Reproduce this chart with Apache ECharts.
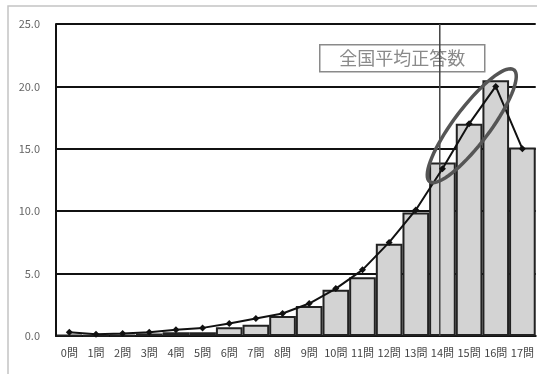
<!DOCTYPE html>
<html>
<head>
<meta charset="utf-8">
<script src="https://cdn.jsdelivr.net/npm/echarts@6/dist/echarts.min.js"></script>
<style>
  html, body { margin: 0; padding: 0; background: #fff; }
  #chart { width: 537px; height: 374px; }
</style>
</head>
<body>
<div id="chart"></div>
<script>
// Number of correct answers (0–17) and the share of students (%) at each score
const categories = ['0問','1問','2問','3問','4問','5問','6問','7問','8問','9問',
                    '10問','11問','12問','13問','14問','15問','16問','17問'];
// School distribution (bars)
const schoolShare = [0.1, 0.05, 0.1, 0.2, 0.3, 0.3, 0.7, 0.9, 1.6, 2.4,
                     3.7, 4.7, 7.4, 9.9, 13.9, 17.0, 20.5, 15.1];
// National distribution (line)
const nationalShare = [0.3, 0.15, 0.2, 0.3, 0.5, 0.65, 1.0, 1.4, 1.8, 2.6,
                       3.8, 5.3, 7.5, 10.1, 13.4, 17.0, 20.0, 15.0];
// National average number of correct answers
const nationalAverage = 13.9;
// Highlighted region around the top scores: centre [score, share]
const highlightCentre = [15.1, 16.85];
const yTicks = [0, 5, 10, 15, 20, 25];

const FONT = '"Noto Sans CJK JP", "Noto Sans", sans-serif';
const chart = echarts.init(document.getElementById('chart'), null, { renderer: 'canvas' });

chart.setOption({
  animation: false,
  backgroundColor: '#fff',
  grid: { left: 56, top: 24, right: 1, bottom: 38, containLabel: false },
  xAxis: [
    {
      type: 'category',
      data: categories,
      boundaryGap: true,
      axisLine: { show: true, lineStyle: { color: '#111', width: 2 } },
      axisTick: { show: false },
      axisLabel: { interval: 0, color: '#444', fontSize: 11, fontFamily: FONT, margin: 11 }
    },
    {
      // continuous twin of the score axis for the average line and highlight
      type: 'value', min: -0.5, max: 17.5, show: false
    }
  ],
  yAxis: {
    type: 'value',
    min: yTicks[0],
    max: yTicks[yTicks.length - 1],
    interval: 5,
    axisLine: { show: true, onZero: false, lineStyle: { color: '#111', width: 2 } },
    axisTick: { show: false },
    axisLabel: { color: '#666', fontSize: 11, fontFamily: FONT, margin: 16,
                 formatter: v => v.toFixed(1) },
    splitLine: { show: true, lineStyle: { color: '#111', width: 2 } }
  },
  graphic: [
    {
      type: 'rect', silent: true, z: -1,
      shape: { x: 8, y: 6, width: 640, height: 420 },
      style: { fill: 'none', stroke: '#c4c4c4', lineWidth: 1.5 }
    },
    {
      type: 'group', left: 319, top: 44, z: 100,
      children: [
        { type: 'rect', shape: { x: 0, y: 0, width: 165, height: 27 },
          style: { fill: 'rgba(255,255,255,0)', stroke: '#8a8a8a', lineWidth: 1.5 } },
        { type: 'text', x: 82.5, y: 13.5,
          style: { text: '全国平均正答数', fill: '#8a8a8a', font: '18px ' + FONT,
                   align: 'center', verticalAlign: 'middle' } }
      ]
    }
  ],
  series: [
    {
      name: '本校',
      type: 'bar',
      data: schoolShare,
      barCategoryGap: '0%',
      itemStyle: { color: '#d3d3d3', borderColor: '#222', borderWidth: 2 },
      z: 2
    },
    {
      name: '全国',
      type: 'line',
      data: nationalShare,
      symbol: 'diamond',
      symbolSize: 7,
      lineStyle: { color: '#111', width: 2 },
      itemStyle: { color: '#111' },
      z: 4
    },
    {
      name: '全国平均',
      type: 'line',
      xAxisIndex: 1,
      data: [[nationalAverage, yTicks[0]], [nationalAverage, yTicks[yTicks.length - 1]]],
      symbol: 'none',
      lineStyle: { color: '#444', width: 1.5 },
      z: 3
    },
    {
      name: '強調',
      type: 'custom',
      xAxisIndex: 1,
      data: [highlightCentre],
      z: 5,
      renderItem: function (params, api) {
        const c = api.coord([api.value(0), api.value(1)]);
        const rx = 70, ry = 18, ang = -53 * Math.PI / 180;
        const pts = [];
        for (let i = 0; i < 72; i++) {
          const t = i / 72 * Math.PI * 2;
          const ex = rx * Math.cos(t), ey = ry * Math.sin(t);
          pts.push([c[0] + ex * Math.cos(ang) - ey * Math.sin(ang),
                    c[1] + ex * Math.sin(ang) + ey * Math.cos(ang)]);
        }
        return {
          type: 'polygon',
          shape: { points: pts },
          style: { fill: 'none', stroke: '#555', lineWidth: 3.5 }
        };
      }
    }
  ]
});
</script>
</body>
</html>
